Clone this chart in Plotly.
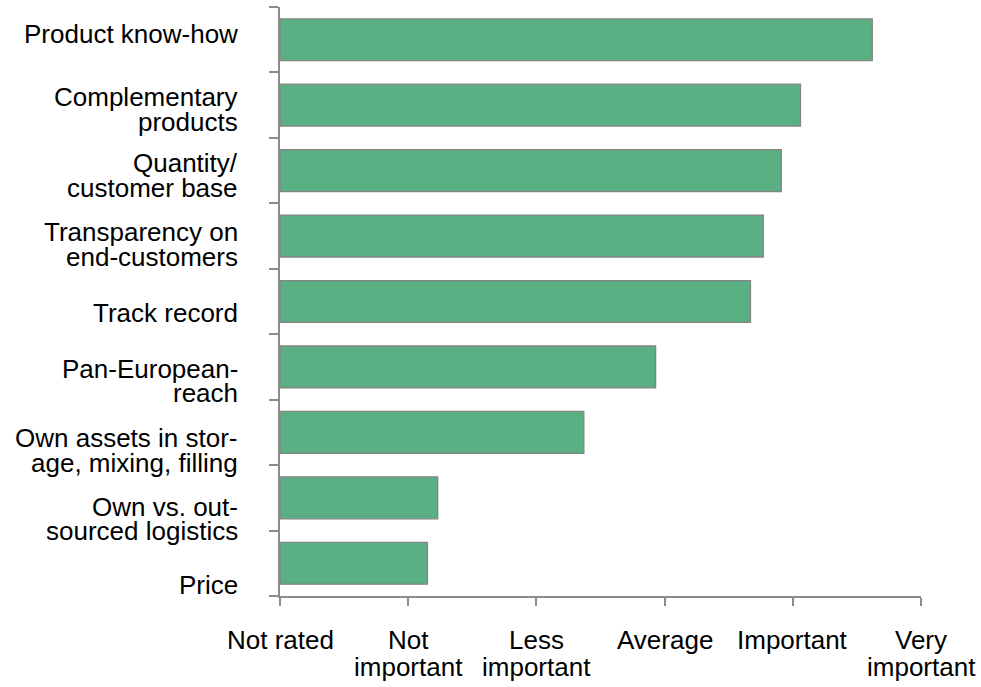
import plotly.graph_objects as go

categories = [
    "Product know-how",
    "Complementary<br>products",
    "Quantity/<br>customer base",
    "Transparency on<br>end-customers",
    "Track record",
    "Pan-European-<br>reach",
    "Own assets in stor-<br>age, mixing, filling",
    "Own vs. out-<br>sourced logistics",
    "Price",
]
scores = [4.62, 4.06, 3.91, 3.77, 3.67, 2.93, 2.37, 1.23, 1.15]
tick_values = [0, 1, 2, 3, 4, 5]
tick_labels = ["Not rated", "Not<br>important", "Less<br>important", "Average",
               "Important", "Very<br>important"]

# layout tuning (pixels): vertical nudge of each category label
label_nudge = [-6, 4.5, 5, 8.5, 11, 14, 18, 21, 22]

AXIS_GRAY = "#8c8c8c"
FONT = "Liberation Sans, Arial, sans-serif"
FS = 26
Y_LINE = 24.5
X_LINE = 27

fig = go.Figure(go.Bar(
    y=categories, x=scores, orientation="h",
    marker=dict(color="#5aaf83", line=dict(color="#848484", width=1.3)),
    hoverinfo="skip",
))

fig.update_layout(
    width=981, height=687,
    margin=dict(l=280, r=60, t=7, b=91, autoexpand=False),
    paper_bgcolor="white", plot_bgcolor="white",
    font=dict(family=FONT, size=FS, color="black"),
    bargap=0.36,
    showlegend=False,
)
fig.update_xaxes(
    range=[0, 5], tickvals=tick_values, showticklabels=False, automargin=False,
    showgrid=False, zeroline=False,
    showline=True, linecolor=AXIS_GRAY, linewidth=1.5,
    ticks="outside", ticklen=8, tickcolor=AXIS_GRAY, tickwidth=1.5,
)
fig.update_yaxes(
    categoryorder="array", categoryarray=categories[::-1],
    autorange=False, range=[-0.5, len(categories) - 0.5],
    showticklabels=False, automargin=False,
    showgrid=False, zeroline=False,
    showline=True, linecolor=AXIS_GRAY, linewidth=1.5,
    ticks="outside", ticklen=9, tickcolor=AXIS_GRAY, tickwidth=1.5,
    tickson="boundaries",
)
# small extension of the x-axis line to the left (under the y tick)
fig.add_shape(type="line", xref="x", yref="paper", xsizemode="pixel", xanchor=0,
              x0=-9, x1=0, y0=0, y1=0, line=dict(color=AXIS_GRAY, width=1.5))

# category labels (one annotation per text line for tight line spacing)
for i, cat in enumerate(categories):
    lines = cat.split("<br>")
    n = len(lines)
    for j, ln in enumerate(lines):
        fig.add_annotation(
            xref="paper", x=0, yref="y", y=cat, text=ln, showarrow=False,
            xanchor="right", yanchor="middle", xshift=-40,
            yshift=-(label_nudge[i] + (j - (n - 1) / 2) * Y_LINE),
            font=dict(family=FONT, size=FS, color="black"),
        )

# x tick labels
for val, lab in zip(tick_values, tick_labels):
    for j, ln in enumerate(lab.split("<br>")):
        fig.add_annotation(
            xref="x", x=val, yref="paper", y=0, text=ln, showarrow=False,
            xanchor="center", yanchor="middle",
            yshift=-(43.5 + j * X_LINE),
            font=dict(family=FONT, size=FS, color="black"),
        )

fig.write_html(
    "out.html",
    config={"displayModeBar": False},
    post_script="document.body.style.margin='0';document.body.style.overflow='hidden';",
)
